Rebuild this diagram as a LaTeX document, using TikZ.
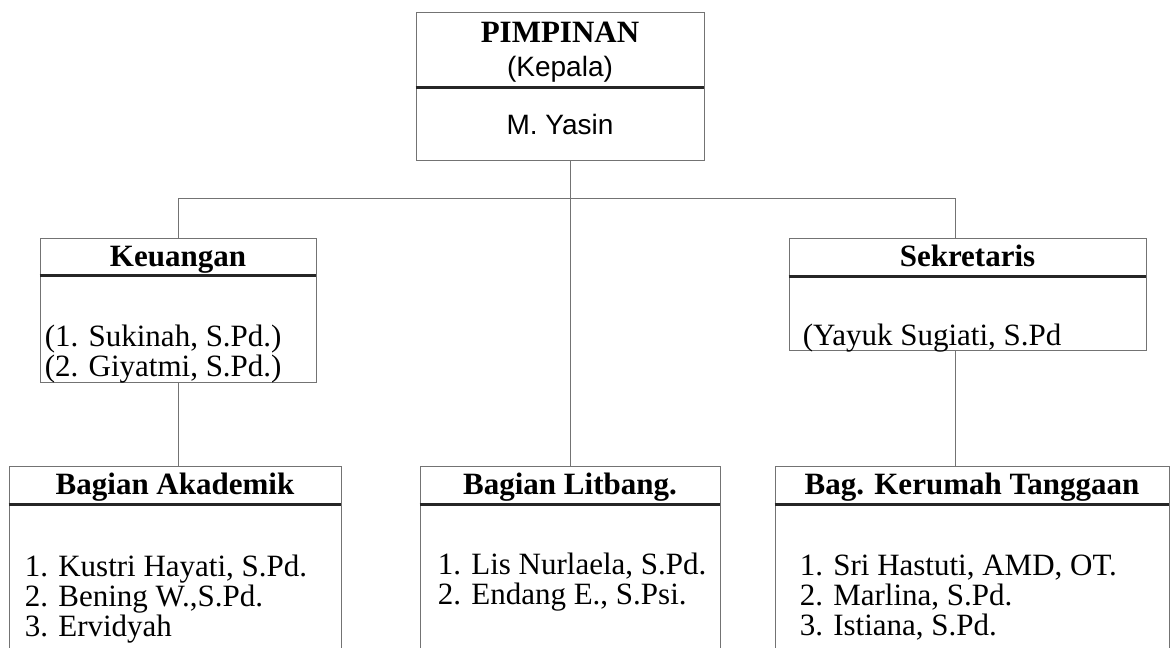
\documentclass[tikz,border=0pt]{standalone}
\usepackage{fontspec}
\setmainfont{Liberation Serif}
\newfontfamily\arialfont{Liberation Sans}
\usetikzlibrary{positioning}

\begin{document}
\begin{tikzpicture}[
  x=1pt, y=-1pt,
  garis/.style={draw=black!55, line width=0.9pt},
  kop/.style={garis, rectangle, inner sep=0pt, minimum height=38pt, font=\fontsize{31}{34}\selectfont\bfseries},
  judul/.style={kop, text height=24pt, text depth=5pt},
  badan/.style={garis, rectangle, inner sep=0pt},
  sekat/.style={line width=2.6pt, black!85},
  daftar/.style={align=left, inner sep=0pt, font=\fontsize{31}{30}\selectfont}
]
\useasboundingbox (0,0) rectangle (1171,648);

% pimpinan
\node[kop, minimum width=288pt, minimum height=75pt, align=center] (kepala) at (560,49.5) {\rule{0pt}{25pt}PIMPINAN\\{\arialfont\mdseries\fontsize{28}{30}\selectfont (Kepala)}};
\node[badan, minimum width=288pt, minimum height=73pt, below=0pt of kepala, font=\arialfont\fontsize{28}{30}\selectfont] (yasin) {M. Yasin};

% baris kedua
\node[judul, minimum width=276pt, minimum height=37pt] (keu) at (178,256.5) {Keuangan};
\node[badan, minimum width=276pt, minimum height=107pt, below=0pt of keu] (keuBadan) {};
\node[daftar, below right=49pt and 5pt of keuBadan.north west] (keuIsi) {(1. Sukinah, S.Pd.)\\(2. Giyatmi, S.Pd.)};

\node[judul, minimum width=357pt] (sek) at (967.5,257) {Sekretaris};
\node[badan, minimum width=357pt, minimum height=74pt, below=0pt of sek] (sekBadan) {};
\node[daftar, below right=47pt and 14pt of sekBadan.north west] (sekIsi) {(Yayuk Sugiati, S.Pd};

% baris ketiga
\node[judul, minimum width=332pt] (akad) at (175,485) {Bagian Akademik};
\node[badan, minimum width=332pt, minimum height=190pt, below=0pt of akad] (akadBadan) {};
\node[daftar, below right=50pt and 16pt of akadBadan.north west] (akadIsi) {1. Kustri Hayati, S.Pd.\\2. Bening W.,S.Pd.\\3. Ervidyah};

\node[judul, minimum width=300pt] (litbang) at (570,485) {Bagian Litbang.};
\node[badan, minimum width=300pt, minimum height=190pt, below=0pt of litbang] (litbangBadan) {};
\node[daftar, below right=48pt and 18pt of litbangBadan.north west] (litbangIsi) {1. Lis Nurlaela, S.Pd.\\2. Endang E., S.Psi.};

\node[judul, minimum width=394pt] (rumah) at (972,485) {Bag. Kerumah Tanggaan};
\node[badan, minimum width=394pt, minimum height=190pt, below=0pt of rumah] (rumahBadan) {};
\node[daftar, below right=50pt and 25pt of rumahBadan.north west] (rumahIsi) {1. Sri Hastuti, AMD, OT.\\2. Marlina, S.Pd.\\3. Istiana, S.Pd.};

% garis pemisah judul
\draw[sekat] (kepala.south west) -- (kepala.south east);
\draw[sekat] (keu.south west) -- (keu.south east);
\draw[sekat] (sek.south west) -- (sek.south east);
\draw[sekat] (akad.south west) -- (akad.south east);
\draw[sekat] (litbang.south west) -- (litbang.south east);
\draw[sekat] (rumah.south west) -- (rumah.south east);

% garis hubung
\coordinate (cabKiri) at (178,198);
\coordinate (cabKanan) at (955,198);
\draw[garis] (cabKiri) -- (cabKanan);
\draw[garis] (cabKiri) -- (keu.north);
\draw[garis] (cabKanan) -- (cabKanan |- sek.north);
\draw[garis] (yasin.south -| litbang.north) -- (litbang.north);
\draw[garis] (keuBadan.south) -- (keuBadan.south |- akad.north);
\draw[garis] (sekBadan.south -| cabKanan) -- (cabKanan |- rumah.north);
\end{tikzpicture}
\end{document}
